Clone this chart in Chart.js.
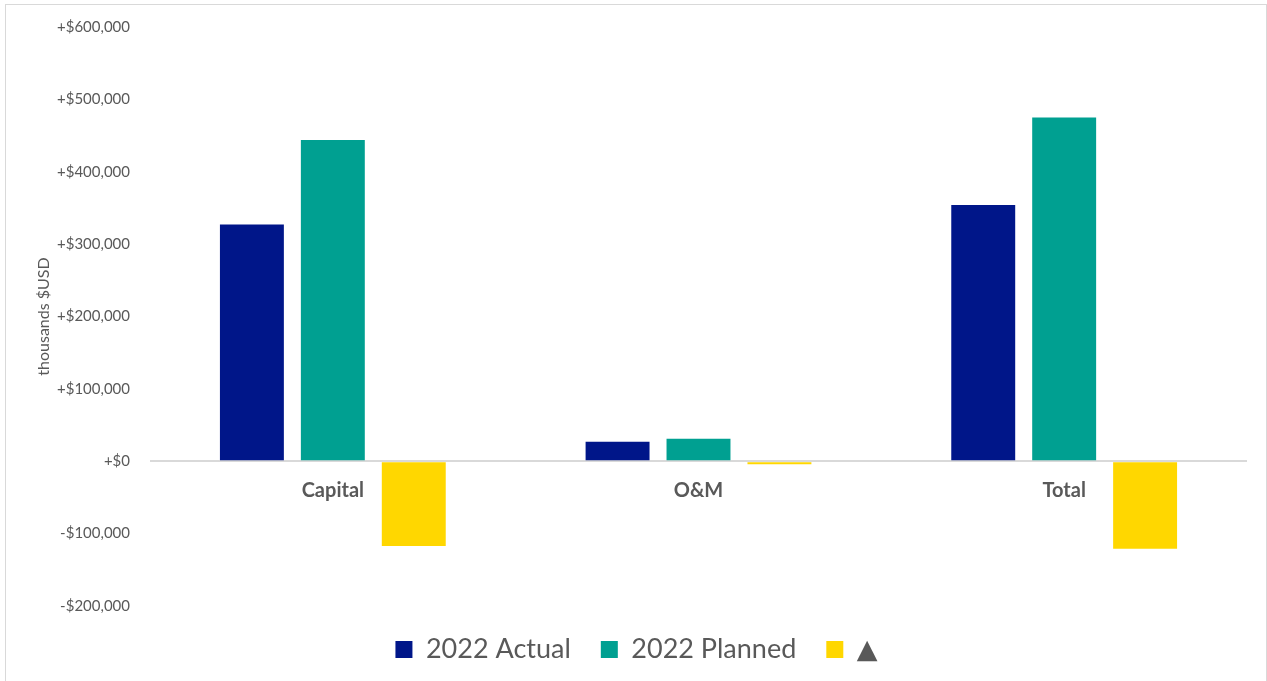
<!DOCTYPE html>
<html>
<head>
<meta charset="utf-8">
<title>2022 Actual vs Planned</title>
<script src="https://cdn.jsdelivr.net/npm/chart.js@4/dist/chart.umd.min.js"></script>
<style>
  body { margin: 0; background: #fff; }
  #marco {
    position: absolute;
    left: 5px;
    top: 4px;
    width: 1260px;
    height: 690px;
    border: 1px solid #d9d9d9;
  }
  canvas { display: block; }
</style>
</head>
<body>
<div id="marco">
  <canvas id="grafico" width="1260" height="677"></canvas>
</div>
<script>
// categorías y series (miles de USD)
const categorias = ['Capital', 'O&M', 'Total'];
const real2022 = [327000, 27000, 354000];
const plan2022 = [444000, 31000, 475000];
const delta = [-117000, -4000, -121000];

const etiquetasSeries = ['2022 Actual', '2022 Planned', '▲'];
const colores = ['#001689', '#00A091', '#FFD700'];

const fuente = "Lato, 'DejaVu Sans', sans-serif";
const gris = '#595959';

function formatoDolar(v) {
  const signo = v < 0 ? '-' : '+';
  return signo + '$' + Math.abs(v).toLocaleString('en-US');
}

const ctx = document.getElementById('grafico').getContext('2d');

const chart = new Chart(ctx, {
  type: 'bar',
  data: {
    labels: categorias,
    datasets: [real2022, plan2022, delta].map((serie, i) => ({
      label: etiquetasSeries[i],
      data: serie,
      backgroundColor: colores[i],
      borderWidth: 0,
      categoryPercentage: 0.664,
      barPercentage: 0.79
    }))
  },
  options: {
    responsive: false,
    animation: false,
    layout: {
      padding: { left: 20, top: 22, right: 19, bottom: 9 }
    },
    plugins: {
      tooltip: { enabled: false },
      legend: {
        position: 'bottom',
        labels: {
          boxWidth: 17,
          boxHeight: 17,
          padding: 30,
          color: gris,
          font: { family: fuente, size: 27 }
        }
      }
    },
    scales: {
      x: {
        // eje de categorías pegado a la línea del cero
        position: { y: 0 },
        afterFit: (s) => { s.height = 0; },
        grid: { display: false },
        border: { display: false },
        ticks: {
          color: gris,
          padding: 9,
          font: { family: fuente, size: 20, weight: 'bold' }
        }
      },
      y: {
        min: -200000,
        max: 600000,
        afterFit: (s) => {
          s.width = 124;
          // sin margen extra arriba/abajo por las etiquetas
          s.paddingTop = 0;
          s.paddingBottom = 0;
        },
        border: { display: false },
        grid: {
          drawTicks: false,
          lineWidth: 2,
          color: (c) => (c.tick && c.tick.value === 0 ? '#d9d9d9' : 'transparent')
        },
        ticks: {
          stepSize: 100000,
          padding: 20,
          color: gris,
          font: { family: fuente, size: 15 },
          callback: (v) => formatoDolar(v)
        },
        title: {
          display: true,
          text: 'thousands $USD',
          color: gris,
          padding: { top: 8, bottom: 0 },
          font: { family: fuente, size: 16 }
        }
      }
    }
  }
});
</script>
</body>
</html>
